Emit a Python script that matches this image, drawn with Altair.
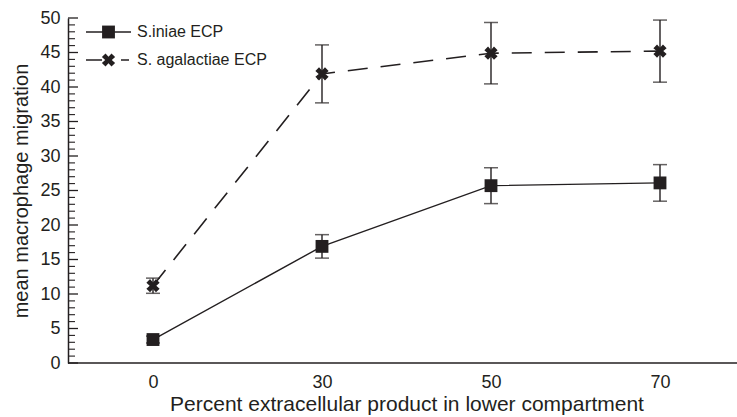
import altair as alt
import pandas as pd

# ---- data ----
x_labels = ["0", "30", "50", "70"]
series_names = ["S.iniae ECP", "S. agalactiae ECP"]
iniae_mean = [3.4, 16.9, 25.7, 26.1]
iniae_err = [0.5, 1.7, 2.6, 2.65]
agal_mean = [11.2, 41.9, 44.9, 45.2]
agal_err = [1.1, 4.2, 4.45, 4.5]
y_major = [0, 5, 10, 15, 20, 25, 30, 35, 40, 45, 50]
y_minor = [v for v in range(0, 51) if v % 5 != 0]

INK = "#231f20"
FONT = "Liberation Sans"
W, H = 669, 345


def frame(name, means, errs):
    return pd.DataFrame({
        "pct": x_labels,
        "series": name,
        "mean": means,
        "lo": [m - e for m, e in zip(means, errs)],
        "hi": [m + e for m, e in zip(means, errs)],
    })


df_i = frame(series_names[0], iniae_mean, iniae_err)
df_a = frame(series_names[1], agal_mean, agal_err)

x_axis = alt.Axis(title="Percent extracellular product in lower compartment",
                  labelAngle=0, domain=False, ticks=False, tickSize=0,
                  labelPadding=10, labelFontSize=18, titleFontSize=21,
                  titlePadding=2, grid=False, labelColor=INK, titleColor=INK)
y_axis = alt.Axis(title="mean macrophage migration", values=y_major,
                  ticks=False, tickSize=0, labelPadding=8, domainWidth=1.5,
                  domainColor=INK, labelFontSize=18, titleFontSize=20,
                  titlePadding=8, grid=False, labelColor=INK, titleColor=INK)
x_scale = alt.Scale(type="point", domain=x_labels, range=[85, 592], padding=0)
y_scale = alt.Scale(domain=[0, 50], nice=False, zero=True)


def X():
    return alt.X("pct:O", scale=x_scale, axis=x_axis)


def Y(field):
    return alt.Y(f"{field}:Q", scale=y_scale, axis=y_axis)


line_i = alt.Chart(df_i).mark_line(color=INK, strokeWidth=1.4).encode(x=X(), y=Y("mean"))
line_a = alt.Chart(df_a).mark_line(color=INK, strokeWidth=1.6, strokeDash=[20, 13]).encode(x=X(), y=Y("mean"))

both = pd.concat([df_i, df_a])
err = alt.Chart(both).mark_rule(color=INK, strokeWidth=1.4).encode(x=X(), y=Y("lo"), y2="hi:Q")
cap_lo = alt.Chart(both).mark_tick(color=INK, size=14, thickness=1.5).encode(x=X(), y=Y("lo"))
cap_hi = alt.Chart(both).mark_tick(color=INK, size=14, thickness=1.5).encode(x=X(), y=Y("hi"))

XPATH = ("M-0.45,-1L0,-0.5L0.45,-1L1,-0.45L0.5,0L1,0.45L0.45,1L0,0.5"
         "L-0.45,1L-1,0.45L-0.5,0L-1,-0.45Z")

pts_i = alt.Chart(df_i).mark_point(shape="square", filled=True, size=165, color=INK, opacity=1).encode(x=X(), y=Y("mean"))
pts_a = alt.Chart(df_a).mark_point(shape=XPATH, filled=True, size=175, color=INK, opacity=1).encode(x=X(), y=Y("mean"))

# inward y ticks
tick_major = alt.Chart(pd.DataFrame({"v": y_major})).mark_rule(color=INK, strokeWidth=1.3).encode(
    x=alt.value(0), x2=alt.value(10), y=Y("v"))
tick_minor = alt.Chart(pd.DataFrame({"v": y_minor})).mark_rule(color=INK, strokeWidth=1.1).encode(
    x=alt.value(0), x2=alt.value(7), y=Y("v"))

# x axis line across whole width
x_line = alt.Chart(pd.DataFrame({"v": [0]})).mark_rule(color=INK, strokeWidth=1.5).encode(
    x=alt.value(0), x2=alt.value(W), y=Y("v"))

# manual legend (pixel positions inside plot area)
leg1 = pd.DataFrame({"label": [series_names[0]]})
leg2 = pd.DataFrame({"label": [series_names[1]]})
l1_line = alt.Chart(leg1).mark_rule(color=INK, strokeWidth=1.4).encode(
    x=alt.value(18), x2=alt.value(63), y=alt.value(14))
l1_pt = alt.Chart(leg1).mark_point(shape="square", filled=True, size=165, color=INK, opacity=1).encode(
    x=alt.value(40.5), y=alt.value(14))
l1_txt = alt.Chart(leg1).mark_text(align="left", baseline="middle", fontSize=16, font=FONT, color=INK).encode(
    x=alt.value(69), y=alt.value(14), text="label:N")
l2_line = alt.Chart(leg2).mark_rule(color=INK, strokeWidth=1.6, strokeDash=[16, 19, 8, 50]).encode(
    x=alt.value(18), x2=alt.value(63), y=alt.value(42))
l2_pt = alt.Chart(leg2).mark_point(shape=XPATH, filled=True, size=175, color=INK, opacity=1).encode(
    x=alt.value(40.5), y=alt.value(42))
l2_txt = alt.Chart(leg2).mark_text(align="left", baseline="middle", fontSize=16, font=FONT, color=INK).encode(
    x=alt.value(69), y=alt.value(42), text="label:N")

chart = alt.layer(
    line_i, line_a, err, cap_lo, cap_hi, pts_i, pts_a,
    tick_major, tick_minor, x_line,
    l1_line, l1_pt, l1_txt, l2_line, l2_pt, l2_txt,
).properties(
    width=W, height=H,
    autosize=alt.AutoSizeParams(type="none"),
    padding={"left": 68, "top": 18, "right": 0, "bottom": 54},
).configure_view(stroke=None).configure_axis(
    labelFont=FONT, titleFont=FONT, titleFontWeight="normal"
)

chart.save("out.html", embed_options={"renderer": "svg", "actions": False})
